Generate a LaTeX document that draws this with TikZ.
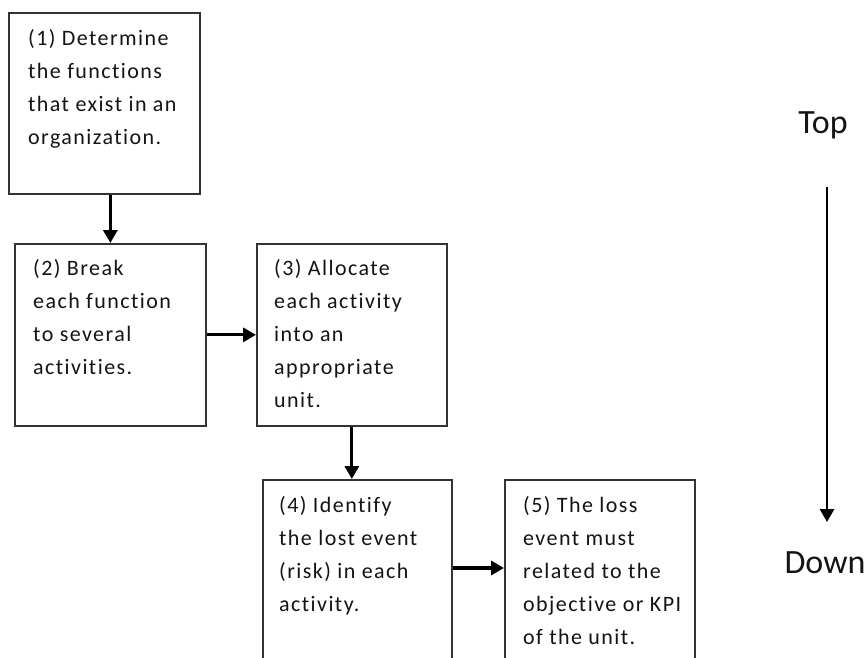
\documentclass[tikz,border=0pt]{standalone}
\usepackage{fontspec}
\setmainfont{Carlito}
\newfontfamily\boxfont[LetterSpace=6.5,Ligatures=NoCommon]{Carlito}
\usetikzlibrary{arrows.meta}
\begin{document}
\begin{tikzpicture}[x=1pt,y=-1pt,
  box/.style={draw=black!80, line width=1.7pt, anchor=north west, inner sep=0, fill=none},
  txt/.style={anchor=north west, inner sep=0, align=left, font=\boxfont\fontsize{22}{33}\selectfont, text=black!92},
  flow/.style={line width=3.2pt, draw=black, -{Triangle[length=13pt,width=14pt]}},
  lbl/.style={font=\fontsize{34}{40}\selectfont, inner sep=0, text=black!92, anchor=base}]
\useasboundingbox (0,0) rectangle (867,658);
\fill[white] (0,0) rectangle (867,658);
\clip (0,0) rectangle (867,658);
% boxes
\node[box, minimum width=191pt, minimum height=181pt] (b1) at (8,12) {};
\node[box, minimum width=191pt, minimum height=182pt] (b2) at (14,243) {};
\node[box, minimum width=190pt, minimum height=182pt] (b3) at (256,243) {};
\node[box, minimum width=189pt, minimum height=250pt] (b4) at (262,479) {};
\node[box, minimum width=190pt, minimum height=250pt] (b5) at (504,479) {};
% texts
\node[txt, xshift=20pt, yshift=-11pt] (t1) at (b1.north west) {\rule{0pt}{22pt}(1) Determine\\the functions\\that exist in an\\organization.};
\node[txt, xshift=19pt, yshift=-10pt] (t2) at (b2.north west) {\rule{0pt}{22pt}(2) Break\\each function\\to several\\activities.};
\node[txt, xshift=18pt, yshift=-10pt] (t3) at (b3.north west) {\rule{0pt}{22pt}(3) Allocate\\each activity\\into an\\appropriate\\unit.};
\node[txt, xshift=17pt, yshift=-11pt] (t4) at (b4.north west) {\rule{0pt}{22pt}(4) Identify\\the lost event\\(risk) in each\\activity.};
\node[txt, xshift=19pt, yshift=-11pt] (t5) at (b5.north west) {\rule{0pt}{22pt}(5) The loss\\event must\\related to the\\objective or KPI\\of the unit.};
% flow arrows
\draw[flow] (b2.north |- b1.south) -- (b2.north);
\draw[flow] (b2.east) -- (b3.west);
\draw[flow] (b3.south) -- (b3.south |- b4.north);
\coordinate (a45) at (0,568);
\draw[flow] (b4.east |- a45) -- (b5.west |- a45);
% top-down
\node[lbl] (top) at (823,133) {Top};
\node[lbl] (down) at (825,573) {Down};
\coordinate (tdA) at (827,187);
\coordinate (tdB) at (827,522);
\draw[flow, line width=2.8pt] (tdA) -- (tdB);
\end{tikzpicture}
\end{document}
